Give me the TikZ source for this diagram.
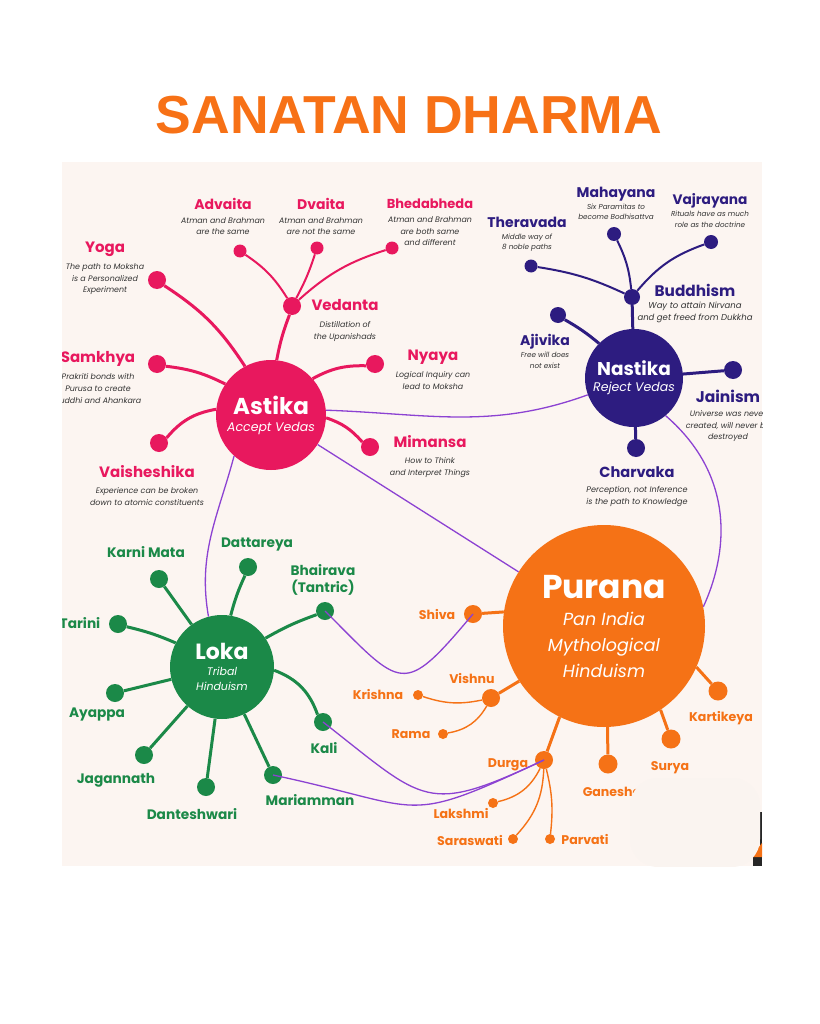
\documentclass[tikz,border=0pt]{standalone}
\usepackage{fontspec}
\setmainfont{Poppins}
\newfontfamily\titlefont{Liberation Sans}
\usepackage{tikz}
\usetikzlibrary{positioning}
\definecolor{titlecolor}{RGB}{247,113,22}
\definecolor{panelcolor}{RGB}{252,245,241}
\definecolor{patchcolor}{RGB}{250,244,240}
\definecolor{astcolor}{RGB}{232,24,94}
\definecolor{nascolor}{RGB}{45,28,128}
\definecolor{purcolor}{RGB}{245,114,22}
\definecolor{lokcolor}{RGB}{27,137,72}
\definecolor{linkcolor}{RGB}{140,66,210}
\definecolor{desccolor}{RGB}{50,50,50}

\begin{document}
\begin{tikzpicture}[x=1pt, y=-1pt,
    hub/.style={circle, fill=#1, inner sep=0pt, text=white, align=center},
    dot/.style={circle, fill=#1, inner sep=0pt, minimum size=18pt},
    sdot/.style={circle, fill=#1, inner sep=0pt, minimum size=10pt},
    albl/.style={text=astcolor, font=\bfseries\fontsize{15}{17}\selectfont,
        inner sep=0pt, text depth=0pt},
    nlbl/.style={text=nascolor, font=\bfseries\fontsize{14}{17}\selectfont,
        inner sep=0pt, text depth=0pt},
    llbl/.style={text=lokcolor, font=\bfseries\fontsize{13.7}{17}\selectfont,
        inner sep=0pt, align=center},
    olbl/.style={text=purcolor, font=\bfseries\fontsize{12.6}{14}\selectfont,
        inner sep=0pt},
    dsc/.style={text=desccolor, font=\itshape\fontsize{7.9}{11.6}\selectfont,
        inner sep=0pt, align=center},
    sdsc/.style={text=desccolor, font=\itshape\fontsize{7.2}{10.8}\selectfont,
        inner sep=0pt, align=center},
    br/.style={draw=#1, line width=3pt},
    sbr/.style={draw=#1, line width=2pt},
    tbr/.style={draw=#1, line width=1.4pt},
    link/.style={draw=linkcolor, line width=1.3pt}
]
\useasboundingbox (0,0) rectangle (819,1024);

% =========================
% TITLE
% =========================
\node[text=titlecolor, font=\titlefont\bfseries\fontsize{53.5}{60}\selectfont,
    inner sep=0pt] (TTL) at (409,115) {SANATAN DHARMA};

\begin{scope}
\clip (62,162) rectangle (762,866);
\fill[panelcolor] (62,162) rectangle (762,866);

% =========================
% HUBS
% =========================
\node[hub=astcolor, minimum size=110pt,
    font=\itshape\fontsize{12.5}{15}\selectfont] (AST) at (271,415)
 {{\upshape\bfseries\fontsize{23}{24}\selectfont Astika}\\[2pt]Accept Vedas};

\node[hub=nascolor, minimum size=98pt,
    font=\itshape\fontsize{12.5}{15}\selectfont] (NAS) at (634,378)
 {{\upshape\bfseries\fontsize{18.5}{22}\selectfont Nastika}\\[1pt]Reject Vedas};

\node[hub=purcolor, minimum size=202pt,
    font=\itshape\fontsize{17.5}{26}\selectfont] (PUR) at (604,626)
 {{\upshape\bfseries\fontsize{33}{36}\selectfont Purana}\\[1pt]Pan India\\Mythological\\Hinduism};

\node[hub=lokcolor, minimum size=104pt,
    font=\itshape\fontsize{11}{15.5}\selectfont] (LOK) at (222,667)
 {{\upshape\bfseries\fontsize{22}{24}\selectfont Loka}\\[0pt]Tribal\\Hinduism};

% =========================
% ASTIKA
% =========================
\node[dot=astcolor] (VED) at (292,306) {};
\node[dot=astcolor, minimum size=13pt] (ADV) at (240,251) {};
\node[dot=astcolor, minimum size=13pt] (DVA) at (317,248) {};
\node[dot=astcolor, minimum size=13pt] (BHE) at (392,248) {};
\node[dot=astcolor] (YOG) at (157,280) {};
\node[dot=astcolor] (SAM) at (157,364) {};
\node[dot=astcolor] (NYA) at (375,364) {};
\node[dot=astcolor] (MIM) at (370,447) {};
\node[dot=astcolor] (VAI) at (159,443) {};

\draw[br=astcolor] (VED) to[bend right=5] (AST);
\draw[br=astcolor] (YOG) to[bend left=12] (AST);
\draw[br=astcolor] (SAM) to[bend left=10] (AST);
\draw[br=astcolor] (VAI) to[bend left=20] (AST);
\draw[br=astcolor] (AST) to[bend left=15] (NYA);
\draw[br=astcolor] (AST) to[bend left=15] (MIM);
\draw[sbr=astcolor] (VED) to[bend right=12] (ADV);
\draw[sbr=astcolor] (VED) to[bend right=5] (DVA);
\draw[sbr=astcolor] (VED) to[bend left=12] (BHE);

\node[albl] (VEDt) at (345,305) {Vedanta};
\node[dsc, below=10.5pt of VEDt] {Distillation of\\the Upanishads};
\node[albl, font=\bfseries\fontsize{14}{16}\selectfont] (ADVt) at (223,204) {Advaita};
\node[dsc, below=7.5pt of ADVt] {Atman and Brahman\\are the same};
\node[albl, font=\bfseries\fontsize{14}{16}\selectfont] (DVAt) at (321,204) {Dvaita};
\node[dsc, below=7.5pt of DVAt] {Atman and Brahman\\are not the same};
\node[albl, font=\bfseries\fontsize{13}{16}\selectfont] (BHEt) at (430,204) {Bhedabheda};
\node[dsc, below=7.5pt of BHEt] {Atman and Brahman\\are both same\\and different};
\node[albl] (YOGt) at (105,247) {Yoga};
\node[dsc, below=11pt of YOGt] {The path to Moksha\\is a Personalized\\Experiment};
\node[albl] (SAMt) at (98,357) {Samkhya};
\node[dsc, below=11pt of SAMt] {Prakriti bonds with\\Purusa to create\\Buddhi and Ahankara};
\node[albl] (NYAt) at (433,355) {Nyaya};
\node[dsc, below=11pt of NYAt] {Logical Inquiry can\\lead to Moksha};
\node[albl] (MIMt) at (430,441) {Mimansa};
\node[dsc, below=10pt of MIMt] {How to Think\\and Interpret Things};
\node[albl] (VAIt) at (147,471) {Vaisheshika};
\node[dsc, below=10pt of VAIt] {Experience can be broken\\down to atomic constituents};

% =========================
% NASTIKA
% =========================
\node[dot=nascolor, minimum size=16pt] (BUD) at (632,297) {};
\node[dot=nascolor, minimum size=13pt] (THE) at (531,266) {};
\node[dot=nascolor, minimum size=14pt] (MAH) at (614,234) {};
\node[dot=nascolor, minimum size=14pt] (VAJ) at (711,242) {};
\node[dot=nascolor, minimum size=16pt] (AJI) at (558,315) {};
\node[dot=nascolor] (JAI) at (733,370) {};
\node[dot=nascolor] (CHA) at (636,448) {};

\draw[br=nascolor] (BUD) -- (NAS);
\draw[br=nascolor] (AJI) to[bend left=5] (NAS);
\draw[br=nascolor] (NAS) -- (JAI);
\draw[br=nascolor] (NAS) -- (CHA);
\draw[sbr=nascolor] (THE) to[bend left=8] (BUD);
\draw[sbr=nascolor] (MAH) to[bend left=10] (BUD);
\draw[sbr=nascolor] (BUD) to[bend left=15] (VAJ);

\node[nlbl] (THEt) at (527,222) {Theravada};
\node[sdsc, below=6pt of THEt] {Middle way of\\8 noble paths};
\node[nlbl] (MAHt) at (616,192) {Mahayana};
\node[sdsc, below=6pt of MAHt] {Six Paramitas to\\become Bodhisattva};
\node[nlbl, font=\bfseries\fontsize{13.7}{17}\selectfont] (VAJt) at (710,199) {Vajrayana};
\node[sdsc, below=6pt of VAJt] {Rituals have as much\\role as the doctrine};
\node[nlbl, font=\bfseries\fontsize{15.3}{18}\selectfont] (BUDt) at (695,290) {Buddhism};
\node[dsc, font=\itshape\fontsize{8.5}{12}\selectfont, below=6pt of BUDt]
 {Way to attain Nirvana\\and get freed from Dukkha};
\node[nlbl] (AJIt) at (545,340) {Ajivika};
\node[sdsc, below=6pt of AJIt] {Free will does\\not exist};
\node[nlbl, font=\bfseries\fontsize{15.5}{18}\selectfont] (JAIt) at (728,396) {Jainism};
\node[dsc, below=8pt of JAIt] {Universe was never\\created, will never be\\destroyed};
\node[nlbl, font=\bfseries\fontsize{14.6}{18}\selectfont] (CHAt) at (637,472) {Charvaka};
\node[dsc, font=\itshape\fontsize{8.1}{11.6}\selectfont, below=9pt of CHAt]
 {Perception, not Inference\\is the path to Knowledge};

% =========================
% LOKA
% =========================
\node[dot=lokcolor] (KMA) at (159,579) {};
\node[dot=lokcolor] (DAT) at (248,567) {};
\node[dot=lokcolor] (BHA) at (325,611) {};
\node[dot=lokcolor] (TAR) at (118,624) {};
\node[dot=lokcolor] (AYA) at (115,693) {};
\node[dot=lokcolor] (JAG) at (144,755) {};
\node[dot=lokcolor] (DAN) at (206,787) {};
\node[dot=lokcolor] (MAR) at (273,775) {};
\node[dot=lokcolor] (KAL) at (323,722) {};

\draw[br=lokcolor] (KMA) -- (LOK);
\draw[br=lokcolor] (DAT) to[bend right=5] (LOK);
\draw[br=lokcolor] (LOK) to[bend left=5] (BHA);
\draw[br=lokcolor] (TAR) to[bend left=5] (LOK);
\draw[br=lokcolor] (AYA) -- (LOK);
\draw[br=lokcolor] (JAG) -- (LOK);
\draw[br=lokcolor] (DAN) -- (LOK);
\draw[br=lokcolor] (MAR) -- (LOK);
\draw[br=lokcolor] (LOK) to[bend left=25] (KAL);

\node[llbl] (KMAt) at (146,552) {Karni Mata};
\node[llbl] (DATt) at (257,545) {Dattareya};
\node[llbl] (BHAt) at (323,580) {Bhairava\\(Tantric)};
\node[llbl] (TARt) at (80,623) {Tarini};
\node[llbl] (AYAt) at (97,715) {Ayappa};
\node[llbl] (JAGt) at (116,780) {Jagannath};
\node[llbl] (DANt) at (192,814) {Danteshwari};
\node[llbl] (MARt) at (310,800) {Mariamman};
\node[llbl] (KALt) at (324,748) {Kali};

% =========================
% PURANA
% =========================
\node[dot=purcolor] (SHV) at (473,614) {};
\node[dot=purcolor] (VIS) at (491,698) {};
\node[sdot=purcolor] (KRI) at (418,695) {};
\node[sdot=purcolor] (RAM) at (443,734) {};
\node[dot=purcolor] (DUR) at (544,760) {};
\node[sdot=purcolor] (LAK) at (493,803) {};
\node[sdot=purcolor] (SAR) at (513,839) {};
\node[sdot=purcolor] (PAR) at (550,839) {};
\node[dot=purcolor, minimum size=19pt] (GAN) at (608,764) {};
\node[dot=purcolor, minimum size=19pt] (SUR) at (671,739) {};
\node[dot=purcolor, minimum size=19pt] (KTK) at (718,691) {};

\draw[br=purcolor] (PUR.172) -- (SHV);
\draw[br=purcolor] (PUR.213) -- (VIS);
\draw[br=purcolor] (PUR.-116) -- (DUR);
\draw[br=purcolor] (PUR.-88) -- (GAN);
\draw[br=purcolor] (PUR.-56) -- (SUR);
\draw[br=purcolor] (PUR.-24) -- (KTK);
\draw[tbr=purcolor] (KRI) to[bend right=15] (VIS);
\draw[tbr=purcolor] (RAM) to[bend right=25] (VIS);
\draw[tbr=purcolor] (DUR) to[bend left=25] (LAK);
\draw[tbr=purcolor] (DUR) to[bend left=20] (SAR);
\draw[tbr=purcolor] (DUR) to[bend left=10] (PAR);

\node[olbl] (SHVt) at (437,614) {Shiva};
\node[olbl] (VISt) at (472,678) {Vishnu};
\node[olbl] (KRIt) at (378,694) {Krishna};
\node[olbl] (RAMt) at (411,734) {Rama};
\node[olbl] (DURt) at (508,765) {Durga};
\node[olbl] (LAKt) at (461,813) {Lakshmi};
\node[olbl] (SARt) at (470,840) {Saraswati};
\node[olbl] (PARt) at (585,839) {Parvati};
\node[olbl] (GANt) at (612,792) {Ganesha};
\node[olbl] (SURt) at (670,768) {Surya};
\node[olbl] (KTKt) at (721,718) {Kartikeya};

% =========================
% CROSS LINKS
% =========================
\draw[link] (AST.5) to[out=-2, in=200] (NAS);
\draw[link] (AST) -- (PUR);
\draw[link] (AST.228) to[out=255, in=100] (LOK.105);
\draw[link] (NAS.-50) .. controls (740,480) and (725,560) .. (PUR.11);
\draw[link] (BHA.center) to[out=-45, in=-130, looseness=1.9] (SHV.center);
\draw[link] (KAL.center) to[out=-38, in=-155, looseness=1.5] (DUR.center);
\draw[link] (MAR.center) to[out=-12, in=-155, looseness=1.5] (DUR.center);

% corner patch
\fill[black!85] (760,812) rectangle (762,866);
\fill[black!85] (753,856) rectangle (762,866);
\fill[purcolor] (751,857) -- (762,843) -- (762,857) -- cycle;
\fill[patchcolor, rounded corners=28pt] (630,778) rectangle (760,867);
\end{scope}

\end{tikzpicture}
\end{document}
